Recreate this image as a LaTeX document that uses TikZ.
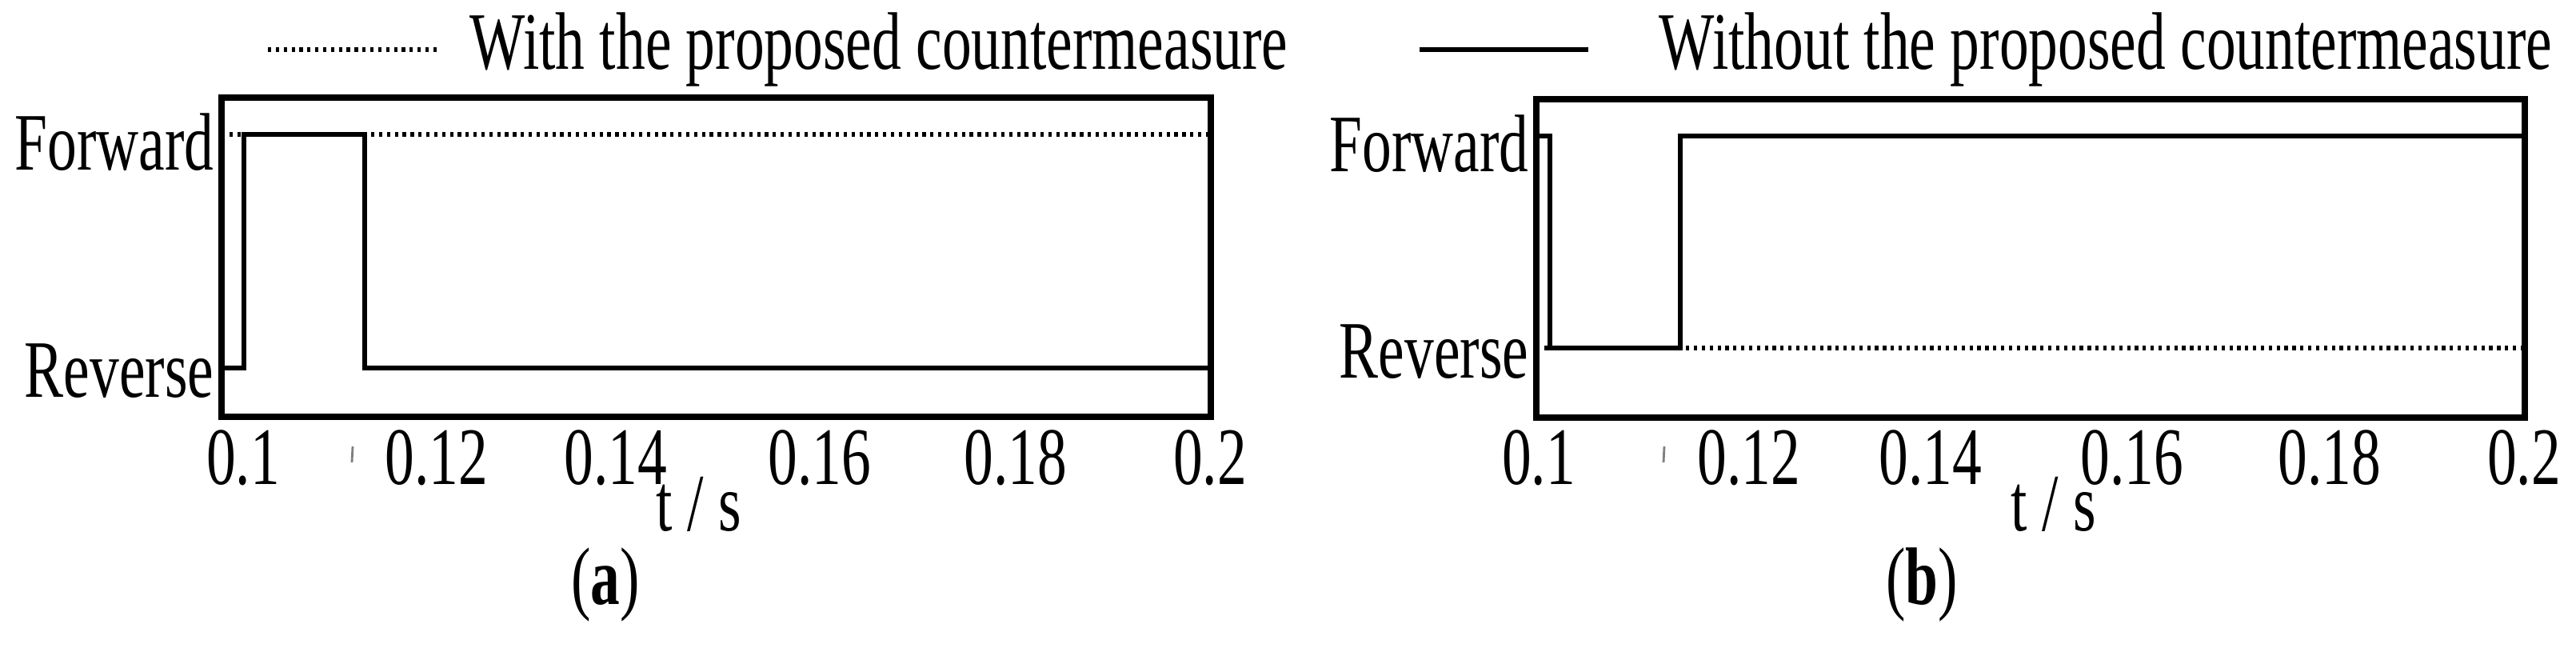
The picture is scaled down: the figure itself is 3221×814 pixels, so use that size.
\documentclass[tikz,border=0pt]{standalone}
\usepackage{fontspec}
\setmainfont{Liberation Serif}
\usetikzlibrary{positioning}
\newcommand{\narrow}[1]{\scalebox{0.72}[1]{#1}}
\tikzset{
	frame/.style={line width=2.3pt},
	sig/.style={line width=1.8pt},
	dots/.style={line width=1.8pt,dash pattern=on 1.2pt off 1.6pt},
	lbl/.style={font=\fontsize{29}{30}\selectfont,inner sep=0pt},
	tickmark/.style={gray,line width=0.8pt}
}
\begin{document}
\begin{tikzpicture}[x=0.01cm,y=-0.01cm]
	\useasboundingbox (0,0) rectangle (3221,814);
	% legend
	\draw[dots] (335,62) -- (546,62);
	\node[lbl,anchor=west] (legA) at (587,62) {\narrow{With the proposed countermeasure}};
	\draw[sig] (1775,62) -- (1986,62);
	\node[lbl,anchor=west] (legB) at (2074,62) {\narrow{Without the proposed countermeasure}};

	% panel (a)
	\draw[frame] (277,122) rectangle (1514,521);
	\draw[dots] (277,168) -- (1514,168);
	\draw[sig] (277,460) -- (305,460) -- (305,168) -- (456,168) -- (456,460) -- (1514,460);
	\node[lbl,anchor=east] (fwdA) at (268,178) {\narrow{Forward}};
	\node[lbl,anchor=east] (revA) at (268,464) {\narrow{Reverse}};
	\foreach \x/\t in {304/0.1,546/0.12,770/0.14,1025/0.16,1270/0.18,1513/0.2}
		\node[lbl] at (\x,572) {\narrow{\t}};
	\draw[tickmark] (441,558) -- (440,578);
	\node[lbl] (tA) at (874,630) {\narrow{t / s}};
	\node[lbl] (capA) at (757,731) {\narrow{(\textbf{a})}};

	% panel (b)
	\draw[frame] (1921,124) rectangle (3157,522);
	\draw[dots] (1921,435) -- (3157,435);
	\draw[dots] (1921,170) -- (1938,170);
	\draw[sig] (1924,170) -- (1938,170) -- (1938,435) -- (2101,435) -- (2101,170) -- (3157,170);
	\node[lbl,anchor=east] (fwdB) at (1912,180) {\narrow{Forward}};
	\node[lbl,anchor=east] (revB) at (1912,440) {\narrow{Reverse}};
	\foreach \x/\t in {1924/0.1,2187/0.12,2414/0.14,2666/0.16,2913/0.18,3156/0.2}
		\node[lbl] at (\x,572) {\narrow{\t}};
	\draw[tickmark] (2081,558) -- (2080,578);
	\node[lbl] (tB) at (2568,630) {\narrow{t / s}};
	\node[lbl] (capB) at (2403,731) {\narrow{(\textbf{b})}};
\end{tikzpicture}
\end{document}
